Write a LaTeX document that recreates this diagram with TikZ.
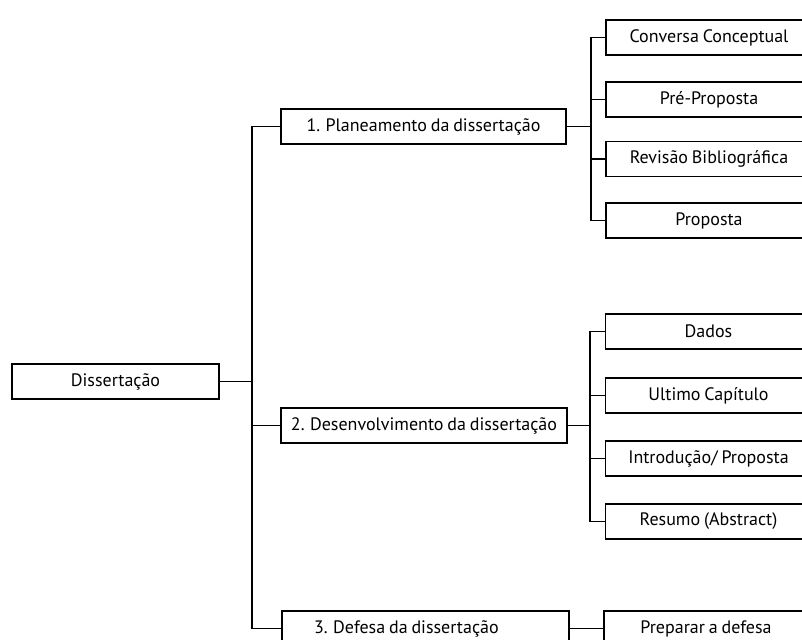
\documentclass[tikz,border=0pt]{standalone}
\usepackage{fontspec}
\setmainfont[WordSpace=0.8]{PT Sans}
\usepackage{tikz}

\begin{document}
\begin{tikzpicture}[x=1pt, y=-1pt, line width=1.8pt]
  \tikzstyle{box}=[rectangle, draw, minimum height=35pt, inner sep=0pt,
    font=\fontsize{18}{20}\selectfont]
  \tikzstyle{leaf}=[box, minimum width=206pt]

  \useasboundingbox (0,0) rectangle (802,639);
  \clip (0,0) rectangle (802,639);

  \node[box, minimum width=207pt] (D) at (115.5,381.5) {Dissertação};

  \node[box, minimum width=285pt] (P-1) at (423.5,126.5) {1. Planeamento da dissertação};
  \node[box, minimum width=286pt] (P-2) at (424,425.5) {2. Desenvolvimento da dissertação};
  \node[box, minimum width=287pt, text width=223pt, inner xsep=32pt, align=flush left]
    (P-3) at (425.5,628.5) {3. Defesa da dissertação};

  \foreach \name / \y / \txt in {1/37.5/Conversa Conceptual, 2/99.5/Pré-Proposta,
      3/159/Revisão Bibliográfica, 4/220.5/Proposta}
    \node[leaf] (A-\name) at (709,\y) {\txt};

  \foreach \name / \y / \txt in {1/331.5/Dados, 2/395.5/Ultimo Capítulo,
      3/458.5/{Introdução/ Proposta}, 4/521.5/Resumo (Abstract)}
    \node[leaf] (B-\name) at (708.5,\y) {\txt};

  \node[leaf, minimum width=204pt] (C-1) at (706,628.5) {Preparar a defesa};

  \coordinate (T) at (252,381.5);
  \coordinate (TA) at (591,126.5);
  \coordinate (TB) at (590,425.5);

  \draw (D.east) -- (T);
  \draw (P-1.west) -| (T) |- (P-3.west);
  \draw (T) |- (P-2.west);

  \draw (P-1.east) -- (TA);
  \foreach \dest in {1,...,4}
    \draw (TA) |- (A-\dest.west);

  \draw (P-2.east) -- (TB);
  \foreach \dest in {1,...,4}
    \draw (TB) |- (B-\dest.west);

  \draw (P-3.east) -- (C-1.west);
\end{tikzpicture}
\end{document}
